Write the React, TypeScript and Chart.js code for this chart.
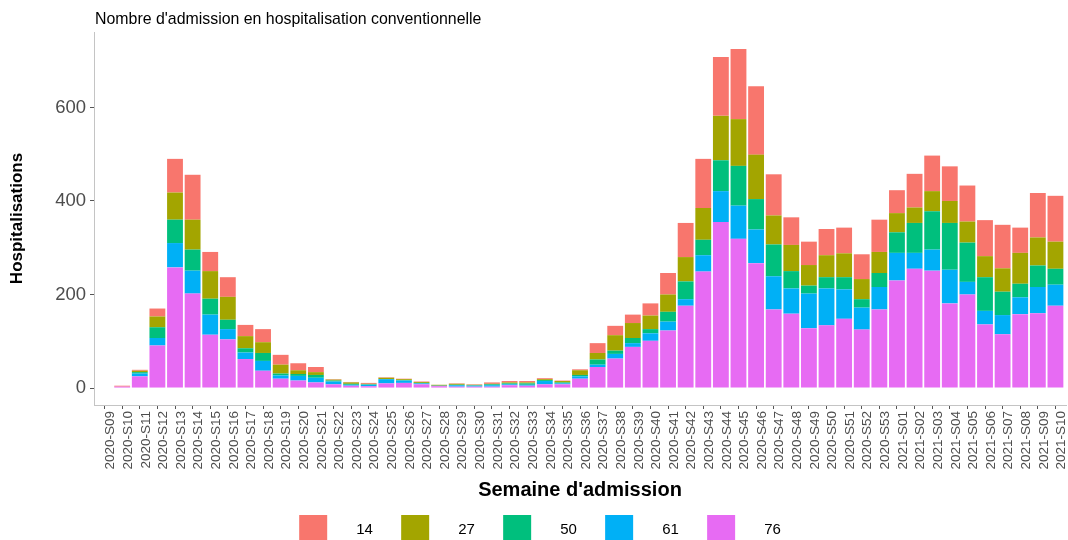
import React, { useEffect, useRef } from "react";
import { Chart, registerables } from "chart.js";

Chart.register(...registerables);

const TITLE = "Nombre d'admission en hospitalisation conventionnelle";
const X_TITLE = "Semaine d'admission";
const Y_TITLE = "Hospitalisations";

const weeks: string[] = [
  "2020-S09", "2020-S10", "2020-S11", "2020-S12", "2020-S13", "2020-S14", "2020-S15", "2020-S16",
  "2020-S17", "2020-S18", "2020-S19", "2020-S20", "2020-S21", "2020-S22", "2020-S23", "2020-S24",
  "2020-S25", "2020-S26", "2020-S27", "2020-S28", "2020-S29", "2020-S30", "2020-S31", "2020-S32",
  "2020-S33", "2020-S34", "2020-S35", "2020-S36", "2020-S37", "2020-S38", "2020-S39", "2020-S40",
  "2020-S41", "2020-S42", "2020-S43", "2020-S44", "2020-S45", "2020-S46", "2020-S47", "2020-S48",
  "2020-S49", "2020-S50", "2020-S51", "2020-S52", "2020-S53",
  "2021-S01", "2021-S02", "2021-S03", "2021-S04", "2021-S05", "2021-S06", "2021-S07", "2021-S08",
  "2021-S09", "2021-S10",
];

// Department 76 (bottom of stack)
const dep76: number[] = [
  0, 3, 25, 91, 258, 202, 114, 104, 62, 37, 20, 16, 12, 8, 5, 4, 10, 11, 8, 4, 3, 3, 3, 6, 5, 8, 8,
  20, 45, 63, 88, 101, 123, 176, 249, 355, 319, 267, 168, 159, 128, 134, 148, 125, 168,
  230, 255, 251, 181, 200, 136, 115, 158, 160, 176,
];
const dep61: number[] = [
  0, 0, 6, 16, 52, 49, 43, 22, 14, 21, 7, 10, 10, 6, 2, 3, 9, 5, 2, 1, 3, 2, 3, 2, 2, 7, 2,
  5, 5, 10, 8, 16, 19, 14, 35, 66, 71, 72, 71, 54, 74, 79, 63, 47, 48,
  59, 34, 45, 72, 27, 29, 41, 36, 56, 45,
];
const dep50: number[] = [
  0, 0, 3, 23, 50, 45, 34, 20, 9, 17, 4, 4, 6, 2, 2, 1, 0, 1, 1, 0, 1, 1, 2, 2, 3, 2, 2,
  3, 11, 7, 11, 9, 21, 38, 33, 66, 85, 65, 68, 37, 17, 24, 26, 18, 30,
  44, 64, 82, 100, 84, 72, 50, 29, 46, 34,
];
const dep27: number[] = [
  0, 0, 3, 23, 58, 64, 59, 49, 26, 23, 19, 8, 6, 2, 3, 1, 3, 2, 2, 2, 2, 1, 1, 2, 2, 2, 3,
  10, 14, 33, 32, 29, 37, 52, 68, 95, 100, 95, 62, 56, 44, 47, 51, 43, 45,
  41, 33, 43, 47, 45, 45, 50, 66, 60, 58,
];
// Department 14 (top of stack)
const dep14: number[] = [
  0, 2, 2, 17, 72, 96, 41, 42, 24, 28, 21, 15, 11, 1, 1, 2, 1, 1, 1, 0, 1, 1, 3, 3, 3, 2, 1,
  2, 21, 20, 18, 26, 46, 73, 105, 126, 150, 146, 88, 59, 50, 56, 55, 53, 69,
  49, 72, 76, 74, 77, 77, 93, 54, 95, 98,
];

const yTicks: number[] = [0, 200, 400, 600];

const seriesNames: string[] = ["76", "61", "50", "27", "14"];
const seriesData: number[][] = [dep76, dep61, dep50, dep27, dep14];
const seriesColors: string[] = ["#E76BF3", "#00B0F6", "#00BF7D", "#A3A500", "#F8766D"];

const FONT = '"Liberation Sans", Arial, Helvetica, sans-serif';

export default function App() {
  const canvasRef = useRef<HTMLCanvasElement | null>(null);

  useEffect(() => {
    if (!canvasRef.current) return;
    Chart.defaults.font.family = FONT;

    const totals = weeks.map((_, i) => seriesData.reduce((s, arr) => s + arr[i], 0));
    const maxTotal = Math.max(...totals);
    const yMax = maxTotal * 1.05;
    const yMin = -maxTotal * 0.05;

    const deco = {
      id: "deco",
      afterDraw(chart: any) {
        const ctx = chart.ctx as CanvasRenderingContext2D;
        const a = chart.chartArea;
        const W = chart.width;
        ctx.save();
        // title
        ctx.fillStyle = "#000000";
        ctx.font = `15.9px ${FONT}`;
        ctx.textAlign = "left";
        ctx.textBaseline = "alphabetic";
        ctx.fillText(TITLE, a.left + 1, 24);
        // x title
        ctx.font = `bold 20px ${FONT}`;
        ctx.textAlign = "center";
        ctx.fillText(X_TITLE, (a.left + a.right) / 2, 496);
        // y title
        ctx.save();
        ctx.translate(17, (a.top + a.bottom) / 2);
        ctx.rotate(-Math.PI / 2);
        ctx.font = `bold 17px ${FONT}`;
        ctx.textBaseline = "middle";
        ctx.fillText(Y_TITLE, 0, 0);
        ctx.restore();
        // legend (order 14, 27, 50, 61, 76)
        ctx.font = `15px ${FONT}`;
        const box = 28;
        const gap = 29;
        const spacing = 28.3;
        const order = [4, 3, 2, 1, 0];
        const widths = order.map((k) => ctx.measureText(seriesNames[k]).width);
        const total =
          widths.reduce((s, w) => s + box + gap + w, 0) + spacing * (order.length - 1);
        let x = (W - total) / 2 + 6;
        const top = 515;
        order.forEach((k, j) => {
          ctx.fillStyle = seriesColors[k];
          ctx.fillRect(x, top, box, box);
          ctx.fillStyle = "#000000";
          ctx.textAlign = "left";
          ctx.textBaseline = "middle";
          ctx.fillText(seriesNames[k], x + box + gap, top + 15);
          x += box + gap + widths[j] + spacing;
        });
        ctx.restore();
      },
    };

    const chart = new Chart(canvasRef.current, {
      type: "bar",
      data: {
        datasets: seriesNames.map((name, k) => ({
          label: name,
          data: weeks.map((_, i) => ({ x: i, y: seriesData[k][i] })),
          backgroundColor: seriesColors[k],
          borderWidth: 0,
          barPercentage: 0.9,
          categoryPercentage: 1,
        })),
      },
      options: {
        animation: false,
        responsive: true,
        maintainAspectRatio: false,
        layout: { padding: { left: 0, right: 2, top: 32, bottom: 0 } },
        plugins: {
          legend: { display: false },
          tooltip: { enabled: false },
          title: { display: false },
        },
        scales: {
          x: {
            type: "linear",
            stacked: true,
            offset: false,
            min: -0.6,
            max: weeks.length - 1 + 0.6,
            afterBuildTicks: (scale: any) => {
              scale.ticks = weeks.map((_, i) => ({ value: i }));
            },
            afterFit: (scale: any) => {
              scale.height = 135;
              scale.paddingLeft = 0;
              scale.paddingRight = 0;
            },
            grid: {
              display: true,
              drawOnChartArea: false,
              drawTicks: true,
              tickLength: 4,
              tickColor: "#555555",
              offset: false,
            },
            border: { display: true, color: "#c4c4c4", width: 1 },
            ticks: {
              autoSkip: false,
              minRotation: 90,
              maxRotation: 90,
              padding: 2,
              labelOffset: 6,
              color: "#4d4d4d",
              font: { size: 13.5, family: FONT },
              callback: (value: any) => weeks[Math.round(Number(value))] ?? "",
            },
          },
          y: {
            type: "linear",
            stacked: true,
            min: yMin,
            max: yMax,
            afterBuildTicks: (scale: any) => {
              scale.ticks = yTicks.map((v) => ({ value: v }));
            },
            afterFit: (scale: any) => {
              scale.width = 94;
              scale.paddingTop = 0;
              scale.paddingBottom = 0;
            },
            grid: {
              display: true,
              drawOnChartArea: false,
              drawTicks: true,
              tickLength: 4,
              tickColor: "#555555",
            },
            border: { display: true, color: "#c4c4c4", width: 1 },
            ticks: {
              padding: 4,
              color: "#4d4d4d",
              font: { size: 18.5, family: FONT },
              callback: (value: any) => String(value),
            },
          },
        },
      },
      plugins: [deco],
    } as any);

    return () => chart.destroy();
  }, []);

  return (
    <div style={{ position: "absolute", left: 0, top: 0, width: 1068, height: 540, background: "#ffffff" }}>
      <canvas ref={canvasRef} />
    </div>
  );
}
